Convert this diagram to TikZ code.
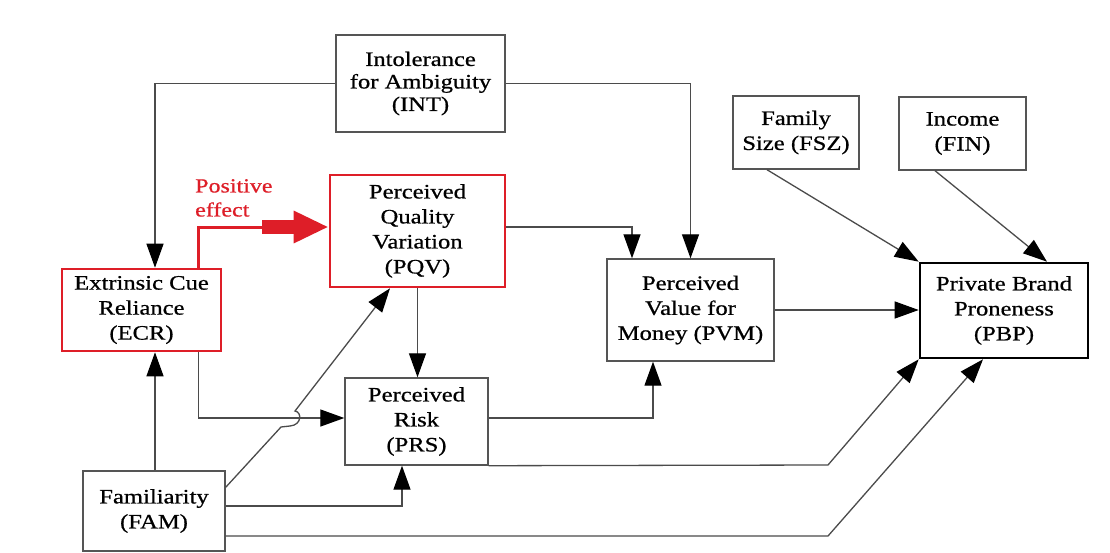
\documentclass[tikz,border=0pt]{standalone}
\usepackage{fontspec}
\setmainfont{Liberation Serif}[FakeStretch=1.2,FakeBold=0.7]
\usetikzlibrary{arrows.meta}
\definecolor{rd}{RGB}{222,30,40}
\definecolor{ln}{RGB}{75,75,75}
\definecolor{bx}{RGB}{85,85,85}
\tikzset{
  box/.style={draw=bx, line width=1.4pt, inner sep=0pt, align=center, text=black,
    font=\fontsize{20.5}{25}\selectfont},
  redbox/.style={box, draw=rd, line width=2.6pt},
  thickbox/.style={box, draw=black, line width=2.6pt},
  conn/.style={draw=ln, line width=1.3pt, -{Triangle[length=24pt,width=17pt,color=black]}},
}
\begin{document}
\begin{tikzpicture}[x=1pt,y=-1pt]
\useasboundingbox[fill=white] (0,0) rectangle (1110,552);

\node[box, minimum width=169pt, minimum height=97pt, font=\fontsize{20.5}{22.5}\selectfont] (INT) at (420.5,83.5) {Intolerance\\for Ambiguity\\(INT)};
\node[redbox, minimum width=175pt, minimum height=112pt] (PQV) at (417.5,231) {Perceived\\Quality\\Variation\\(PQV)};
\node[redbox, minimum width=159pt, minimum height=82pt] (ECR) at (141.5,310) {Extrinsic Cue\\Reliance\\(ECR)};
\node[box, minimum width=167pt, minimum height=102pt] (PVM) at (690.5,310) {Perceived\\Value for\\Money (PVM)};
\node[thickbox, minimum width=168pt, minimum height=95pt] (PBP) at (1004,310.5) {Private Brand\\Proneness\\(PBP)};
\node[box, minimum width=126pt, minimum height=73pt] (FSZ) at (796,132.5) {Family\\Size (FSZ)};
\node[box, minimum width=127pt, minimum height=73pt] (FIN) at (962.5,133.5) {Income\\(FIN)};
\node[box, minimum width=143pt, minimum height=87pt] (PRS) at (416.5,421.5) {Perceived\\Risk\\(PRS)};
\node[box, minimum width=142pt, minimum height=80pt] (FAM) at (154,511) {Familiarity\\(FAM)};

\node[anchor=north west, inner sep=0pt, align=left, text=rd, font=\fontsize{20}{24}\selectfont] (POS) at (195,179) {Positive\\effect};

% INT connectors
\draw[conn] (INT.west) -| ([xshift=13.5pt]ECR.north);
\draw[conn] (INT.east) -| (PVM.north);
% PQV connectors
\draw[conn] ([yshift=4pt]PQV.east) -| ([xshift=-58.5pt]PVM.north);
\draw[conn] (PQV.south) -- (PQV.south |- PRS.north);
% red positive effect
\coordinate (rp) at (262,227);
\draw[rd, line width=3pt] ([xshift=57pt]ECR.north) |- (rp);
\draw[rd, line width=14pt, -{Triangle[length=35pt,width=30pt]}] (rp) -- (rp -| PQV.west);
% ECR to PRS
\draw[conn] ([xshift=57pt]ECR.south) |- ([yshift=3.5pt]PRS.west);
% FAM connectors
\draw[conn] ([xshift=1pt]FAM.north) -- ([xshift=1pt]FAM.north |- ECR.south);
\coordinate (h1) at (281,427);
\coordinate (h2) at (290,426);
\coordinate (h3) at (295,411);
\draw[conn] ([yshift=-17pt]FAM.north east) -- (h1) -- (h2) .. controls (302,425) and (302,412) .. (h3) -- ([xshift=-27.5pt]PQV.south);
\draw[conn] ([yshift=5pt]FAM.east) -| ([xshift=-14.5pt]PRS.south);
\coordinate (k1) at (828,536);
\draw[conn] ([yshift=-25pt]FAM.east) -- (k1) -- ([xshift=-21pt]PBP.south);
% PRS connectors
\draw[conn] ([yshift=3.5pt]PRS.east) -| ([xshift=-37.5pt]PVM.south);
\coordinate (k2) at (828,465);
\draw[conn] (PRS.south east) -- (k2) -- (PBP.south west);
% PVM to PBP
\draw[conn] (PVM.east) -- (PVM.east -| PBP.west);
% FSZ, FIN
\draw[conn] ([xshift=-29pt]FSZ.south) -- (PBP.north west);
\draw[conn] ([xshift=-27.5pt]FIN.south) -- ([xshift=43pt]PBP.north);
\end{tikzpicture}
\end{document}
